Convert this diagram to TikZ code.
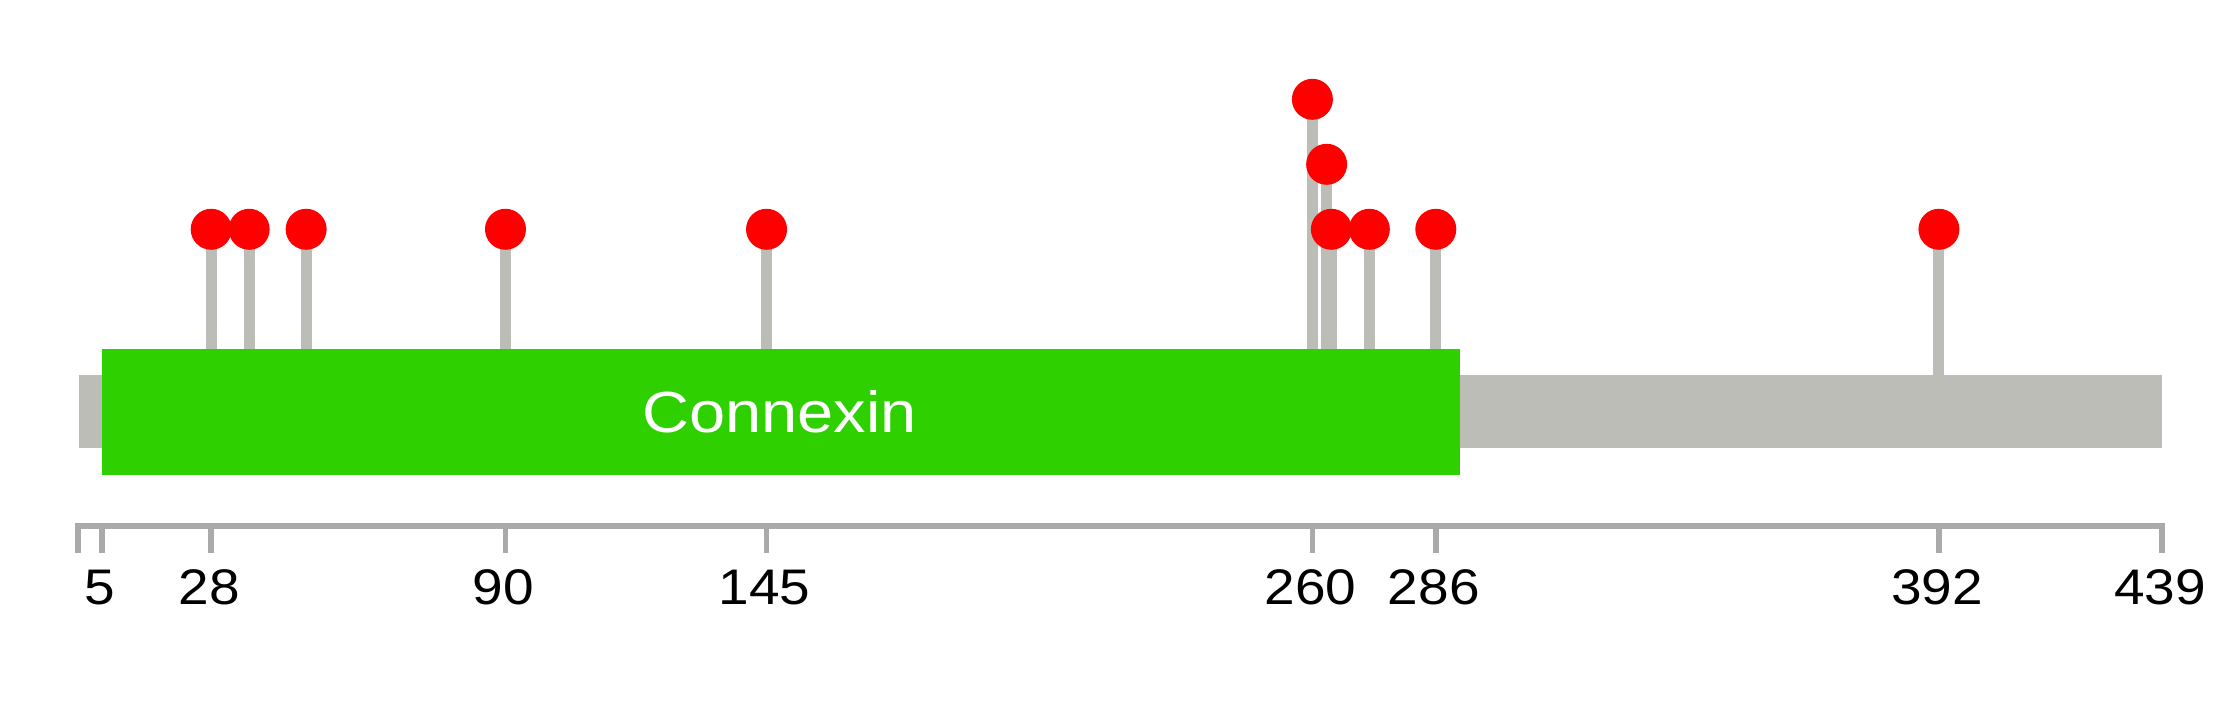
\documentclass[tikz,border=0pt]{standalone}
\usepackage{fontspec}
\setmainfont{Liberation Sans}
\definecolor{bargray}{RGB}{187,189,182}
\definecolor{domgreen}{RGB}{46,208,0}
\definecolor{axisgray}{RGB}{170,170,170}
\definecolor{mutred}{RGB}{255,0,0}
\begin{document}
\begin{tikzpicture}[x=1pt,y=-1pt,
  lolstem/.style={draw=bargray, line width=11pt},
  lolhead/.style={circle, fill=mutred, minimum size=41pt, inner sep=0pt, draw=none},
  axisline/.style={draw=axisgray, line width=5.7pt},
  ticklabel/.style={anchor=base, inner sep=0pt, font=\fontsize{50}{60}\selectfont},
]
\useasboundingbox (0,0) rectangle (2239,708);
% stems
\foreach \p/\y/\n in {28/229.3/a,36/229.3/b,48/229.3/c,90/229.3/d,145/229.3/e,260/99.3/f,263/164.3/g,264/229.3/h,272/229.3/i,286/229.3/j,392/229.3/k}{
  \pgfmathsetmacro\xx{78.3+4.7465*\p}
  \coordinate (c\n) at (\xx,\y);
  \coordinate (s\n) at (\xx,376);
  \draw[lolstem] (c\n) -- (s\n);
}
% protein backbone
\node[fill=bargray, inner sep=0pt, minimum width=2083.7pt, minimum height=73.3pt, anchor=north west] (bar) at (78.3,375) {};
% domain
\node[fill=domgreen, inner sep=0pt, minimum width=1358pt, minimum height=126pt, anchor=north west] (dom) at (102,349) {};
\node[anchor=base, inner sep=0pt, text=white, font=\fontsize{58}{70}\selectfont] (domlabel) at (779.5,432.7) {\scalebox{1.12}[1]{Connexin}};
% lollipop heads
\foreach \n in {a,b,c,d,e,f,g,h,i,j,k}{
  \node[lolhead] (m\n) at (c\n) {};
}
% axis
\coordinate (axL) at (78.3,526.3);
\coordinate (axR) at (2162,526.3);
\draw[axisline, line cap=butt] ([xshift=-2.85pt]axL) -- ([xshift=2.85pt]axR);
\foreach \p/\lab in {0/,5/5,28/28,90/90,145/145,260/260,286/286,392/392,439/439}{
  \pgfmathsetmacro\xx{78.3+4.7465*\p}
  \coordinate (t\p) at (\xx,523.5);
  \coordinate (b\p) at (\xx,552.7);
  \draw[axisline] (t\p) -- (b\p);
  \node[ticklabel] (l\p) at ([xshift=-2pt]\xx,604) {\scalebox{1.1}[1]{\lab}};
}
\end{tikzpicture}
\end{document}
